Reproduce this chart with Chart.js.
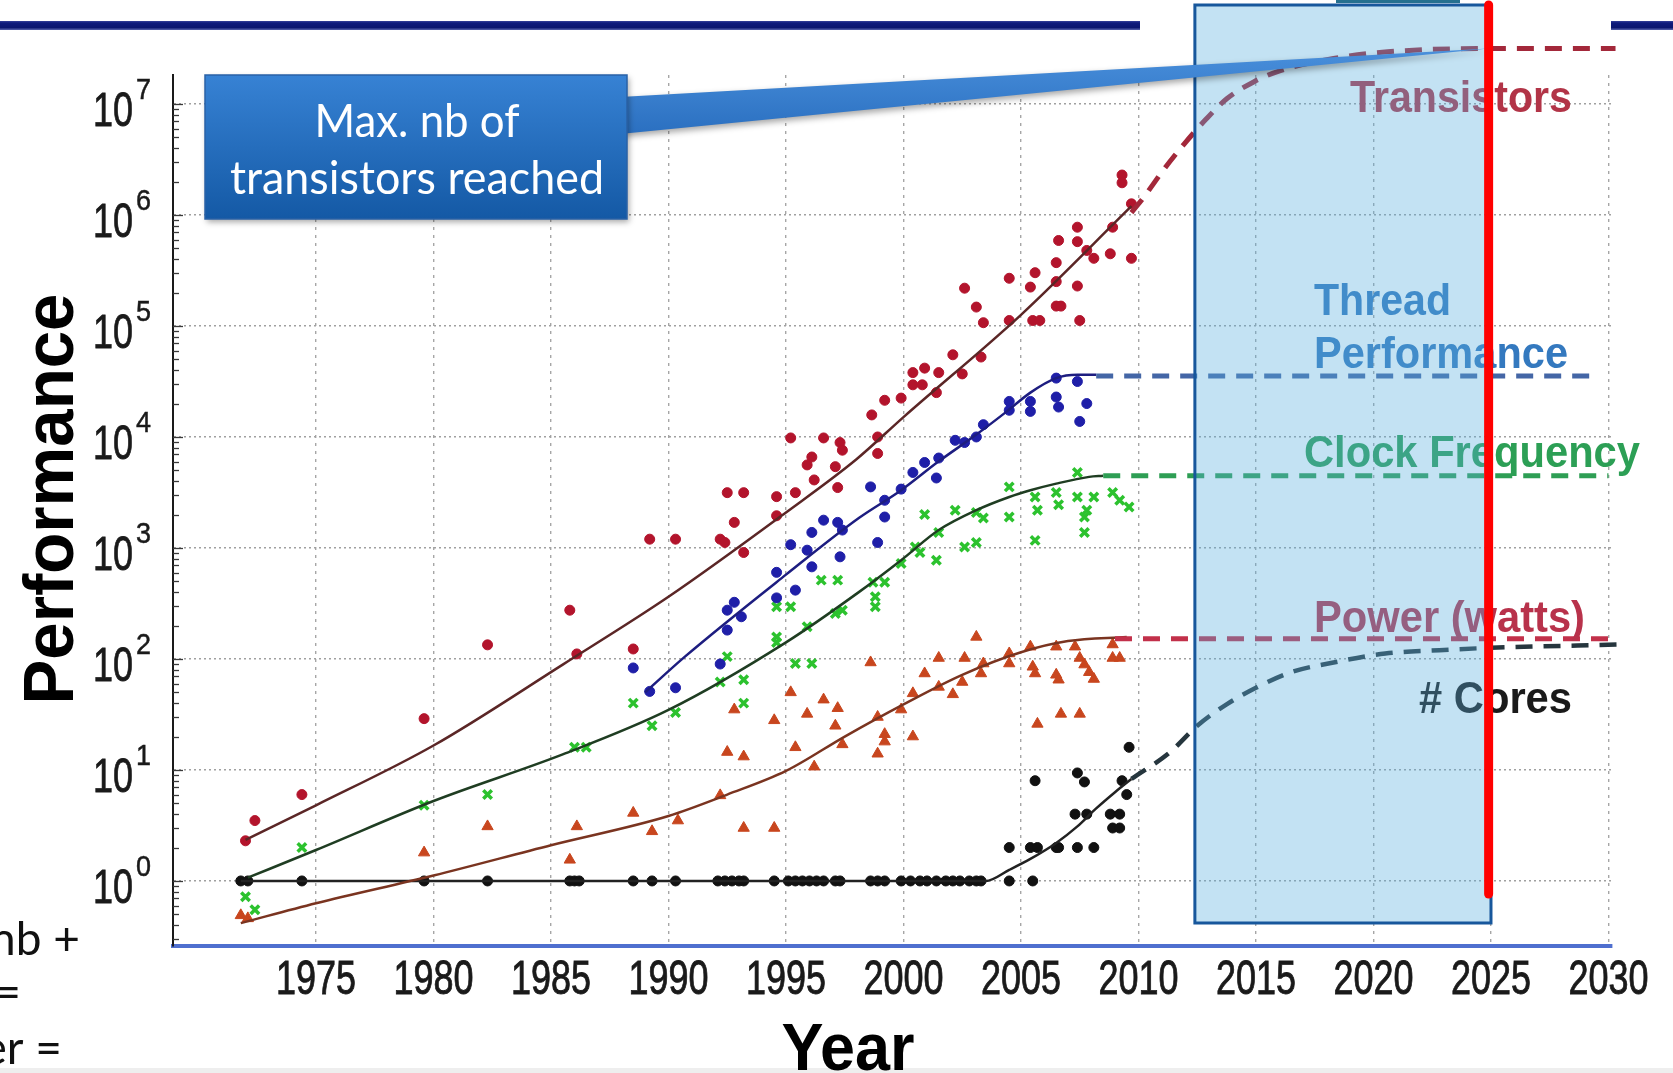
<!DOCTYPE html>
<html>
<head>
<meta charset="utf-8">
<script src="https://cdn.jsdelivr.net/npm/chart.js@4.4.1/dist/chart.umd.min.js"></script>
<style>
  html, body { margin: 0; padding: 0; background: #ffffff; overflow: hidden; }
  #wrap { width: 1673px; height: 1073px; position: relative; }
</style>
</head>
<body>
<div id="wrap"><canvas id="chart" width="1673" height="1073"></canvas></div>
<script>
// ---- axis ticks ----
const xTickYears = [1975, 1980, 1985, 1990, 1995, 2000, 2005, 2010, 2015, 2020, 2025, 2030];
const yTickExponents = [0, 1, 2, 3, 4, 5, 6, 7];

// ---- measured microprocessors: [year, value] ----
const transistorPoints = [
  [1972.0, 2.3], [1972.4, 3.5], [1974.4, 6.0], [1979.6, 29], [1982.3, 134], [1985.8, 275], [1986.1, 111],
  [1988.5, 123], [1989.2, 1200], [1990.3, 1200], [1992.2, 1200], [1992.4, 1120], [1992.5, 3150], [1993.2, 3150],
  [1992.8, 1700], [1993.2, 910], [1994.6, 2900], [1994.6, 1950], [1995.2, 9800], [1995.4, 3150], [1995.9, 5600],
  [1996.1, 6600], [1996.2, 4100], [1996.6, 9800], [1997.1, 5400], [1997.2, 3500], [1997.3, 8900], [1997.4, 7600],
  [1998.65, 15800], [1998.9, 10000], [1998.9, 7100], [1999.2, 21400], [1999.9, 22400], [2000.4, 38000],
  [2000.9, 41700], [2000.4, 29500], [2000.8, 29500], [2001.5, 38000], [2001.4, 25100], [2002.1, 55000],
  [2002.5, 37000], [2002.6, 219000], [2003.1, 148000], [2003.3, 52500], [2003.4, 107000], [2004.5, 269000],
  [2004.5, 112000], [2005.4, 224000], [2005.6, 302000], [2005.5, 112000], [2005.8, 112000], [2006.5, 372000],
  [2006.5, 251000], [2006.6, 589000], [2006.5, 151000], [2006.7, 151000], [2007.4, 776000], [2007.4, 575000],
  [2007.4, 229000], [2007.5, 112000], [2007.8, 479000], [2008.1, 407000], [2008.8, 447000], [2008.9, 776000],
  [2009.7, 407000], [2009.3, 2290000], [2009.3, 1950000], [2009.7, 1260000]
];
const threadPoints = [
  [1988.5, 83], [1989.2, 51], [1990.3, 55], [1992.2, 90], [1992.5, 275], [1992.8, 324], [1993.1, 240],
  [1992.5, 182], [1994.6, 603], [1994.6, 355], [1995.2, 1070], [1995.4, 417], [1995.9, 955], [1996.1, 1380],
  [1996.1, 676], [1996.6, 1780], [1997.2, 1700], [1997.3, 832], [1997.4, 1450], [1998.6, 3550], [1998.9, 1120],
  [1999.2, 2690], [1999.2, 1900], [1999.9, 3390], [2000.4, 4790], [2000.9, 5890], [2001.4, 4270], [2001.5, 6460],
  [2002.2, 9330], [2002.6, 8910], [2003.1, 10000], [2003.4, 12900], [2004.5, 20900], [2004.5, 17400],
  [2005.4, 20900], [2005.4, 17000], [2006.5, 33900], [2006.5, 22900], [2006.6, 18600], [2007.4, 31600],
  [2007.8, 20000], [2007.5, 13800]
];
const clockPoints = [
  [1972.0, 0.72], [1972.4, 0.55], [1974.4, 2.0], [1979.6, 4.8], [1982.3, 6.0], [1986.0, 16], [1986.5, 16],
  [1988.5, 40], [1989.3, 25], [1990.3, 33], [1992.2, 62], [1992.5, 105], [1993.2, 65], [1993.2, 40],
  [1994.6, 141], [1995.4, 91], [1996.1, 91], [1994.6, 295], [1995.2, 295], [1994.6, 158], [1995.9, 195],
  [1996.5, 513], [1997.2, 513], [1997.1, 257], [1997.4, 275], [1998.7, 490], [1998.8, 363], [1998.8, 295],
  [1999.2, 490], [1999.9, 724], [2000.5, 1020], [2000.9, 2000], [2000.7, 912], [2001.5, 1380], [2001.4, 776],
  [2002.2, 2190], [2002.6, 1020], [2003.1, 1120], [2003.1, 2090], [2003.4, 1860], [2004.5, 3550], [2004.5, 1900],
  [2005.6, 2880], [2005.7, 2190], [2005.6, 1170], [2006.5, 3160], [2006.6, 2450], [2007.4, 4790], [2007.4, 2880],
  [2007.8, 2190], [2007.7, 1900], [2007.7, 1380], [2008.1, 2880], [2008.9, 3160], [2009.2, 2690], [2009.6, 2340]
];
const powerPoints = [
  [1971.8, 0.49], [1972.1, 0.46], [1979.6, 1.8], [1982.3, 3.1], [1985.8, 1.55], [1986.1, 3.1], [1988.5, 4.1],
  [1989.3, 2.8], [1990.4, 3.5], [1992.2, 5.9], [1992.5, 14.5], [1993.2, 13.2], [1992.8, 35], [1993.2, 3.0],
  [1994.5, 28], [1994.5, 3.0], [1995.2, 50], [1995.4, 16], [1995.9, 32], [1996.2, 10.7], [1996.6, 43],
  [1997.1, 25], [1997.2, 36], [1997.4, 17], [1998.6, 93], [1998.9, 14], [1999.2, 21], [1999.2, 18], [1998.9, 30],
  [1999.9, 35], [2000.4, 20], [2000.4, 49], [2000.9, 74], [2001.5, 56], [2001.5, 102], [2002.1, 48],
  [2002.6, 102], [2002.5, 62], [2003.3, 74], [2003.4, 91], [2003.1, 158], [2004.5, 112], [2004.5, 91],
  [2005.4, 129], [2005.5, 85], [2005.6, 74], [2005.7, 26], [2006.5, 129], [2006.5, 72], [2006.6, 65],
  [2006.7, 32], [2007.5, 32], [2007.3, 129], [2007.5, 102], [2007.7, 89], [2007.9, 76], [2008.1, 66],
  [2008.9, 135], [2008.9, 102], [2009.2, 102]
];
const singleCoreYears = [
  1971.8, 1972.1, 1974.4, 1979.6, 1982.3, 1985.8, 1986.0, 1986.2, 1988.5, 1989.3, 1990.3, 1992.1, 1992.4,
  1992.7, 1993.0, 1993.2, 1994.5, 1995.1, 1995.4, 1995.7, 1996.0, 1996.3, 1996.6, 1997.1, 1997.3, 1998.6,
  1998.9, 1999.2, 1999.9, 2000.3, 2000.7, 2001.0, 2001.4, 2001.8, 2002.1, 2002.4, 2002.8, 2003.1, 2003.3,
  2004.5, 2005.5
];
const multiCorePoints = [
  [2004.5, 2], [2005.4, 2], [2005.7, 2], [2006.5, 2], [2006.6, 2], [2007.4, 2], [2008.1, 2], [2005.6, 8],
  [2007.3, 4], [2007.8, 4], [2008.8, 4], [2009.2, 4], [2007.4, 9.4], [2007.7, 7.8], [2008.9, 3], [2009.2, 3],
  [2009.3, 8], [2009.5, 6], [2009.6, 16]
];

// ---- fitted trends ----
const transistorTrend = [[1972.0, 2.34], [1975, 4.8], [1980, 16.6], [1985.5, 89], [1990, 363], [1995, 2090],
  [1998, 6300], [2000, 15100], [2005, 126000], [2009.7, 1200000]];
const threadTrend = [[1989.0, 50], [1990.7, 105], [1995, 575], [1998.1, 1860], [1999.9, 3310], [2001.5, 6030],
  [2003.1, 10500], [2004.4, 17000], [2005.4, 25100], [2006.5, 33900], [2007.4, 36300], [2008.2, 36300]];
const clockTrend = [[1972.1, 1.07], [1975, 1.9], [1980, 5.25], [1985.5, 13.8], [1990, 34.7], [1995, 141],
  [1998.1, 400], [1999.9, 776], [2001.5, 1450], [2003.1, 2190], [2004.5, 2880], [2005.4, 3310],
  [2006.5, 3800], [2007.9, 4370], [2008.5, 4470]];
const powerTrend = [[1971.8, 0.417], [1975, 0.63], [1980, 1.12], [1985, 2.1], [1990, 3.85], [1992.5, 6.0],
  [1995, 9.8], [1997.5, 20], [2000, 39], [2002.5, 72], [2005, 115], [2007, 145], [2009.5, 158]];
const coresTrend = [[1971.8, 1], [2003.5, 1], [2004.5, 1.26], [2005.4, 1.58], [2006.5, 2.2], [2007.4, 3.1],
  [2008.2, 4.5], [2009.0, 6.3], [2009.7, 8.3]];

// ---- projections ----
const transistorOutlook = [[2009.7, 1050000], [2010.23, 1450000], [2011.04, 2510000], [2011.95, 4370000],
  [2012.86, 7240000], [2013.77, 11200000], [2014.9, 15800000], [2016.04, 20000000], [2018.3, 25700000],
  [2020.6, 29500000], [2024.9, 31600000], [2030.3, 31600000]];
const threadOutlook = [[2008.2, 35500], [2029.5, 35500]];
const clockOutlook = [[2008.5, 4470], [2030.0, 4470]];
const powerOutlook = [[2009.0, 152], [2030.0, 152]];
const coresOutlook = [[2009.7, 8.3], [2011.35, 14.5], [2012.5, 25], [2013.75, 39], [2015, 55], [2016.5, 76],
  [2018.3, 93], [2020.5, 112], [2022.8, 120], [2025, 126], [2030.5, 135]];

// ---- annotations ----
const highlightYears = [2012.4, 2025.0];
const limitYear = 2024.9;
const transistorCeiling = 31600000;
const calloutLines = ['Max. nb of', 'transistors reached'];
const seriesLabels = [
  { text: 'Transistors', color: '#b23447', x: 1350, y: 112, w: 222 },
  { text: 'Thread', color: '#3479bf', x: 1314, y: 315, w: 137 },
  { text: 'Performance', color: '#3479bf', x: 1314, y: 368, w: 254 },
  { text: 'Clock Frequency', color: '#2c9f55', x: 1304, y: 467, w: 336 },
  { text: 'Power (watts)', color: '#b8324b', x: 1314, y: 632, w: 271 },
  { text: '# Cores', color: '#1a1a1a', x: 1419, y: 713, w: 153 }
];

const toXY = pairs => pairs.map(([x, y]) => ({ x, y }));

function markers(label, data, color, style, radius, width) {
  return {
    label, data, showLine: false,
    pointStyle: style, pointRadius: radius, pointHoverRadius: radius,
    backgroundColor: color, borderColor: color, pointBorderWidth: width
  };
}
function curve(label, data, color, width, dash) {
  return {
    label, data, showLine: true, pointRadius: 0, pointHoverRadius: 0,
    borderColor: color, backgroundColor: color, borderWidth: width,
    borderDash: dash || [], cubicInterpolationMode: 'monotone', tension: 0.4,
    clip: false
  };
}

const DASH = [17, 11];
const datasets = [
  curve('Transistors outlook', toXY(transistorOutlook), '#a3283a', 5, DASH),
  curve('Thread outlook', toXY(threadOutlook), '#4466a6', 5, DASH),
  curve('Clock outlook', toXY(clockOutlook), '#2e9e54', 5, DASH),
  curve('Power outlook', toXY(powerOutlook), '#c2304a', 5, DASH),
  curve('Cores outlook', toXY(coresOutlook), '#26363e', 4.5, DASH),
  curve('Transistors fit', toXY(transistorTrend), '#5b2626', 2.5),
  curve('Thread fit', toXY(threadTrend), '#1d1d80', 2.5),
  curve('Clock fit', toXY(clockTrend), '#1f3d22', 2.5),
  curve('Power fit', toXY(powerTrend), '#7a3420', 2.5),
  curve('Cores fit', toXY(coresTrend), '#222222', 2.5),
  markers('Transistors', toXY(transistorPoints), '#b3142c', 'circle', 5, 1),
  markers('Thread Performance', toXY(threadPoints), '#1f1fa8', 'circle', 5, 1),
  markers('Clock Frequency', toXY(clockPoints), '#2cc22e', 'crossRot', 6, 3.5),
  markers('Power', toXY(powerPoints), '#c8461e', 'triangle', 6.5, 1),
  markers('# Cores', singleCoreYears.map(x => ({ x, y: 1 })).concat(toXY(multiCorePoints)), '#111111', 'circle', 5, 1)
];

// text drawn horizontally scaled to a target width
function fitText(ctx, text, x, y, font, color, width, align, stroke) {
  ctx.save();
  ctx.font = font;
  const w = ctx.measureText(text).width;
  ctx.translate(x, y);
  ctx.scale(width / w, 1);
  ctx.fillStyle = color;
  ctx.textAlign = align || 'left';
  ctx.textBaseline = 'alphabetic';
  ctx.fillText(text, 0, 0);
  if (stroke) {
    ctx.strokeStyle = color;
    ctx.lineWidth = stroke;
    ctx.strokeText(text, 0, 0);
  }
  ctx.restore();
}

const SANS = '"Liberation Sans", Arial, sans-serif';
const HUMANIST = 'Lato, "Open Sans", sans-serif';

const slideDecor = {
  id: 'slideDecor',
  beforeDraw(chart) {
    const ctx = chart.ctx;
    ctx.save();
    ctx.fillStyle = '#ffffff';
    ctx.fillRect(0, 0, chart.width, chart.height);
    // title rule
    const g = ctx.createLinearGradient(0, 20, 0, 30);
    g.addColorStop(0, '#4854a8'); g.addColorStop(0.3, '#0e1b7c');
    g.addColorStop(0.75, '#0a1670'); g.addColorStop(1, '#5a66ae');
    ctx.fillStyle = g;
    ctx.fillRect(0, 21, 1140, 9);
    ctx.fillRect(1611, 21, 62, 9);
    ctx.fillStyle = '#25708f';
    ctx.fillRect(1336, 0, 124, 3);
    // slide text continuing from the left
    ctx.fillStyle = '#111111';
    ctx.font = '46px ' + HUMANIST;
    ctx.textAlign = 'right';
    ctx.textBaseline = 'alphabetic';
    ctx.fillText('nb +', 80, 955);
    ctx.fillText('=', 21, 1008);
    ctx.fillText('er =', 62, 1064);
    ctx.fillStyle = '#eeeeee';
    ctx.fillRect(0, 1068, chart.width, 5);
    ctx.restore();
  },
  afterDatasetsDraw(chart) {
    const ctx = chart.ctx;
    const xs = chart.scales.x, ys = chart.scales.y;
    const area = chart.chartArea;
    ctx.save();

    // inward minor/major ticks on the value axis
    ctx.strokeStyle = '#3a3a3a';
    ctx.lineWidth = 1.3;
    for (let e = -1; e <= 7; e++) {
      for (let k = 1; k <= 9; k++) {
        const v = k * Math.pow(10, e);
        if (v < ys.min || v > ys.max) continue;
        const y = Math.round(ys.getPixelForValue(v)) + 0.5;
        ctx.beginPath();
        ctx.moveTo(area.left, y);
        ctx.lineTo(area.left + (k === 1 ? 10 : 6), y);
        ctx.stroke();
      }
    }

    // tick labels
    yTickExponents.forEach(e => {
      const y = ys.getPixelForValue(Math.pow(10, e));
      fitText(ctx, '10', 133, y + 22, '49px ' + SANS, '#1a1a1a', 40, 'right', 0.8);
      fitText(ctx, String(e), 136, y - 5, '30px ' + SANS, '#1a1a1a', 15, 'left', 0.5);
    });
    xTickYears.forEach(yr => {
      fitText(ctx, String(yr), xs.getPixelForValue(yr), 994, '49px ' + SANS, '#1a1a1a', 80, 'center', 0.9);
    });

    // axis titles
    fitText(ctx, 'Year', 848, 1070, 'bold 67px ' + SANS, '#000000', 133, 'center');
    ctx.save();
    ctx.translate(73, 499);
    ctx.rotate(-Math.PI / 2);
    fitText(ctx, 'Performance', 0, 0, 'bold 70px ' + SANS, '#000000', 411, 'center');
    ctx.restore();

    // series names
    seriesLabels.forEach(l => fitText(ctx, l.text, l.x, l.y, 'bold 45px ' + SANS, l.color, l.w, 'left'));

    // highlighted period
    const hx0 = xs.getPixelForValue(highlightYears[0]);
    const hx1 = xs.getPixelForValue(highlightYears[1]);
    ctx.fillStyle = 'rgba(89,175,221,0.36)';
    ctx.fillRect(hx0, 5, hx1 - hx0, 918);
    ctx.strokeStyle = '#17579c';
    ctx.lineWidth = 3;
    ctx.strokeRect(hx0, 5, hx1 - hx0, 918);

    // callout
    const tipX = xs.getPixelForValue(limitYear);
    const tipY = ys.getPixelForValue(transistorCeiling);
    ctx.save();
    ctx.shadowColor = 'rgba(0,0,0,0.35)';
    ctx.shadowBlur = 6;
    ctx.shadowOffsetX = 2;
    ctx.shadowOffsetY = 3;
    const tg = ctx.createLinearGradient(0, 48, 0, 135);
    tg.addColorStop(0, '#4a90dc'); tg.addColorStop(1, '#2a6fc0');
    ctx.fillStyle = tg;
    ctx.beginPath();
    ctx.moveTo(620, 97);
    ctx.lineTo(tipX, tipY);
    ctx.lineTo(620, 134);
    ctx.closePath();
    ctx.fill();
    const bg = ctx.createLinearGradient(0, 75, 0, 219);
    bg.addColorStop(0, '#3782d4'); bg.addColorStop(1, '#1459a5');
    ctx.fillStyle = bg;
    ctx.fillRect(205, 75, 422, 144);
    ctx.restore();
    ctx.strokeStyle = '#2a62a6';
    ctx.lineWidth = 1.5;
    ctx.strokeRect(205, 75, 422, 144);
    fitText(ctx, calloutLines[0], 417, 137, '46px ' + HUMANIST, '#ffffff', 205, 'center');
    fitText(ctx, calloutLines[1], 417, 194, '46px ' + HUMANIST, '#ffffff', 374, 'center');

    // limit marker
    ctx.strokeStyle = '#ff0000';
    ctx.lineWidth = 9;
    ctx.lineCap = 'round';
    ctx.beginPath();
    ctx.moveTo(tipX, 5);
    ctx.lineTo(tipX, 894);
    ctx.stroke();

    ctx.restore();
  }
};

new Chart(document.getElementById('chart'), {
  type: 'scatter',
  data: { datasets },
  options: {
    responsive: false,
    animation: false,
    events: [],
    devicePixelRatio: 1,
    layout: { padding: { left: 173, right: 61, top: 75, bottom: 127 } },
    plugins: { legend: { display: false }, tooltip: { enabled: false } },
    scales: {
      x: {
        type: 'linear',
        min: 1968.915,
        max: 2030.15,
        afterBuildTicks: axis => { axis.ticks = xTickYears.map(v => ({ value: v })); },
        ticks: { display: false },
        grid: { color: '#a6a6a6', lineWidth: 1.4, drawTicks: false },
        border: { display: true, color: '#4f6fcf', width: 4, dash: [3, 5] }
      },
      y: {
        type: 'logarithmic',
        min: 0.2594,
        max: 18240000,
        afterBuildTicks: axis => { axis.ticks = yTickExponents.map(e => ({ value: Math.pow(10, e) })); },
        ticks: { display: false },
        grid: { color: '#a0a0a0', lineWidth: 1.6, drawTicks: false },
        border: { display: true, color: '#1a1a1a', width: 2, dash: [2, 3] }
      }
    }
  },
  plugins: [slideDecor]
});
</script>
</body>
</html>
